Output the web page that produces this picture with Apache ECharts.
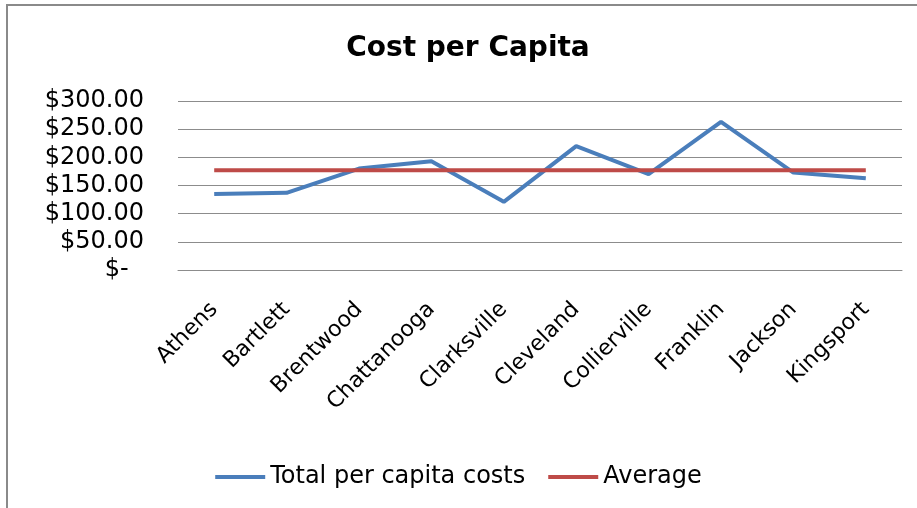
<!DOCTYPE html>
<html>
<head>
<meta charset="utf-8">
<script src="https://cdn.jsdelivr.net/npm/echarts@6/dist/echarts.min.js"></script>
<style>
  html, body { margin: 0; padding: 0; background: #fff; }
  #chart { width: 917px; height: 508px; }
</style>
</head>
<body>
<div id="chart"></div>
<script>
// 城市 / 人均成本
var cities = ['Athens', 'Bartlett', 'Brentwood', 'Chattanooga', 'Clarksville',
              'Cleveland', 'Collierville', 'Franklin', 'Jackson', 'Kingsport'];
var totalCosts = [135, 137, 180, 193, 121, 220, 170, 263, 173, 163];
var averageCosts = [177, 177, 177, 177, 177, 177, 177, 177, 177, 177];
var yTicks = [0, 50, 100, 150, 200, 250, 300];

var font = 'DejaVu Sans';
var dom = document.getElementById('chart');
var myChart = echarts.init(dom);

myChart.setOption({
    animation: false,
    title: {
        text: 'Cost per Capita',
        left: 463,
        top: 30,
        textAlign: 'center',
        textStyle: {
            color: '#000',
            fontFamily: font,
            fontWeight: 'bold',
            fontSize: 28
        }
    },
    // 外框（只有上边和左边）
    graphic: [
        { type: 'line', shape: { x1: 6, y1: 5, x2: 917, y2: 5 }, style: { stroke: '#8a8a8a', lineWidth: 2 } },
        { type: 'line', shape: { x1: 7, y1: 4, x2: 7, y2: 508 }, style: { stroke: '#8a8a8a', lineWidth: 2 } }
    ],
    legend: {
        left: 'center',
        top: 460,
        icon: 'rect',
        itemWidth: 50,
        itemHeight: 4,
        itemGap: 23,
        textStyle: {
            color: '#000',
            fontFamily: font,
            fontSize: 24
        }
    },
    grid: {
        top: 101,
        left: 178,
        right: 15,
        bottom: 238,
        containLabel: false
    },
    xAxis: {
        type: 'category',
        data: cities,
        axisLine: {
            lineStyle: { color: '#8c8c8c', width: 1 }
        },
        axisTick: { show: false },
        axisLabel: {
            rotate: 45,
            margin: 36,
            color: '#000',
            fontFamily: font,
            fontSize: 22
        }
    },
    yAxis: {
        type: 'value',
        min: yTicks[0],
        max: yTicks[yTicks.length - 1],
        interval: 50,
        axisLine: { show: false },
        axisTick: { show: false },
        splitLine: {
            lineStyle: { color: '#8c8c8c', width: 1 }
        },
        axisLabel: {
            margin: 34,
            color: '#000',
            fontFamily: font,
            fontSize: 24,
            formatter: function (value) {
                if (value === 0) { return '$-  '; }
                return '$' + value.toFixed(2);
            }
        }
    },
    series: [
        {
            name: 'Total per capita costs',
            type: 'line',
            data: totalCosts,
            symbol: 'none',
            lineStyle: { color: '#4a7ebb', width: 4 },
            itemStyle: { color: '#4a7ebb' }
        },
        {
            name: 'Average',
            type: 'line',
            data: averageCosts,
            symbol: 'none',
            lineStyle: { color: '#be4b48', width: 4 },
            itemStyle: { color: '#be4b48' }
        }
    ]
});
window.addEventListener('resize', function () {
    myChart.resize();
});
</script>
</body>
</html>
